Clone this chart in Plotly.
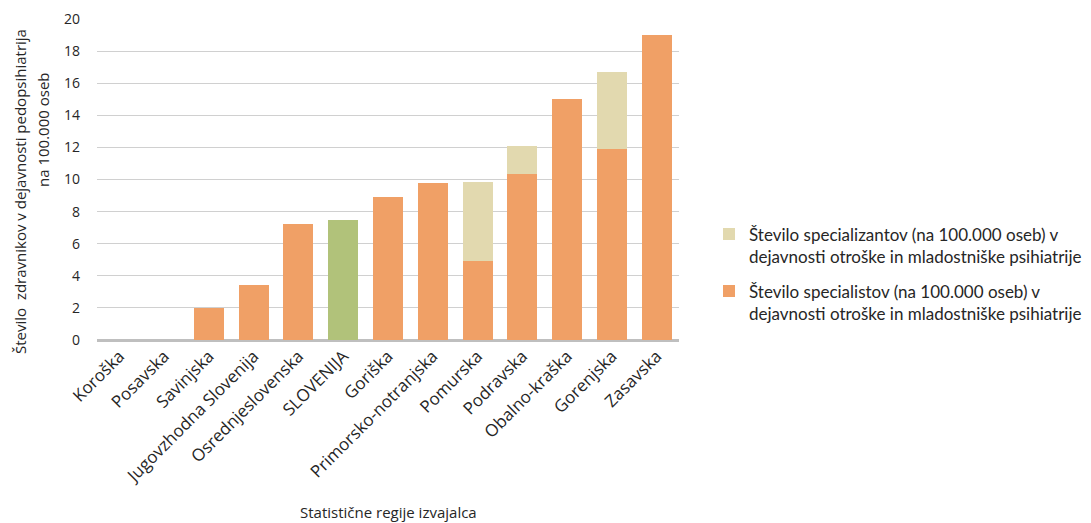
import plotly.graph_objects as go

categories = ["Koroška", "Posavska", "Savinjska", "Jugovzhodna Slovenija", "Osrednjeslovenska",
              "SLOVENIJA", "Goriška", "Primorsko-notranjska", "Pomurska", "Podravska",
              "Obalno-kraška", "Gorenjska", "Zasavska"]
specialists = [0, 0, 1.99, 3.40, 7.22, 7.47, 8.90, 9.79, 4.92, 10.35, 15.02, 11.91, 18.99]
residents = [0, 0, 0, 0, 0, 0, 0, 0, 4.93, 1.73, 0, 4.77, 0]
tick_vals = [0, 2, 4, 6, 8, 10, 12, 14, 16, 18, 20]

ORANGE = "#F0A066"
BEIGE = "#E2D9AF"
GREEN = "#B1C27A"
spec_colors = [GREEN if c == "SLOVENIJA" else ORANGE for c in categories]

FONT = "'Open Sans', sans-serif"
LFONT = "Lato, 'Open Sans', sans-serif"
TXT = "#262626"

W, H = 1083, 515  # page body adds an 8px margin

fig = go.Figure()
fig.add_trace(go.Bar(
    x=categories, y=specialists,
    name="Število specialistov (na 100.000 oseb) v<br>dejavnosti otroške in mladostniške psihiatrije",
    legendgroup="spec", legendrank=2,
    marker=dict(color=spec_colors, line=dict(width=0)),
))
fig.add_trace(go.Bar(
    x=categories, y=residents,
    name="Število specializantov (na 100.000 oseb) v<br>dejavnosti otroške in mladostniške psihiatrije",
    legendgroup="res", legendrank=1,
    marker=dict(color=BEIGE, line=dict(width=0)),
))

fig.update_layout(
    barmode="stack",
    bargap=0.33,
    width=W, height=H,
    margin=dict(l=89, r=412, t=11, b=183),
    plot_bgcolor="white", paper_bgcolor="white",
    font=dict(family=FONT, size=14, color=TXT),
    legend=dict(
        xref="container", x=701 / W, y=0.206, xanchor="left", yanchor="middle",
        traceorder="grouped",
        font=dict(size=17, family=LFONT, color=TXT),
        valign="top",
        tracegroupgap=10,
    ),
    showlegend=True,
    annotations=[
        dict(text="Statistične regije izvajalca", xref="paper", yref="paper",
             x=0.5, y=(340 - 512) / 321, xanchor="center", yanchor="middle",
             showarrow=False, font=dict(size=15, family=FONT, color=TXT)),
        dict(text="Število  zdravnikov v dejavnosti pedopsihiatrija", xref="paper", yref="paper",
             x=(20 - 97) / 582, y=(340 - 192) / 321, xanchor="center", yanchor="middle",
             textangle=-90, showarrow=False, font=dict(size=15, family=FONT, color=TXT)),
        dict(text="na 100.000 oseb", xref="paper", yref="paper",
             x=(43 - 97) / 582, y=(340 - 130) / 321, xanchor="center", yanchor="middle",
             textangle=-90, showarrow=False, font=dict(size=15, family=FONT, color=TXT)),
    ],
)
fig.update_xaxes(
    tickangle=-45,
    tickfont=dict(size=17),
    showgrid=False, showline=False, ticks="",
    ticklabelstandoff=2,
    automargin=False,
)
fig.update_yaxes(
    range=[0, 20],
    tickvals=tick_vals,
    tickfont=dict(size=14),
    showgrid=True, gridcolor="#D0D0D0", gridwidth=1,
    zeroline=True, zerolinecolor="#BFBFBF", zerolinewidth=3,
    ticks="", ticklabelstandoff=16,
    automargin=False,
)

fig.write_html("out.html")
